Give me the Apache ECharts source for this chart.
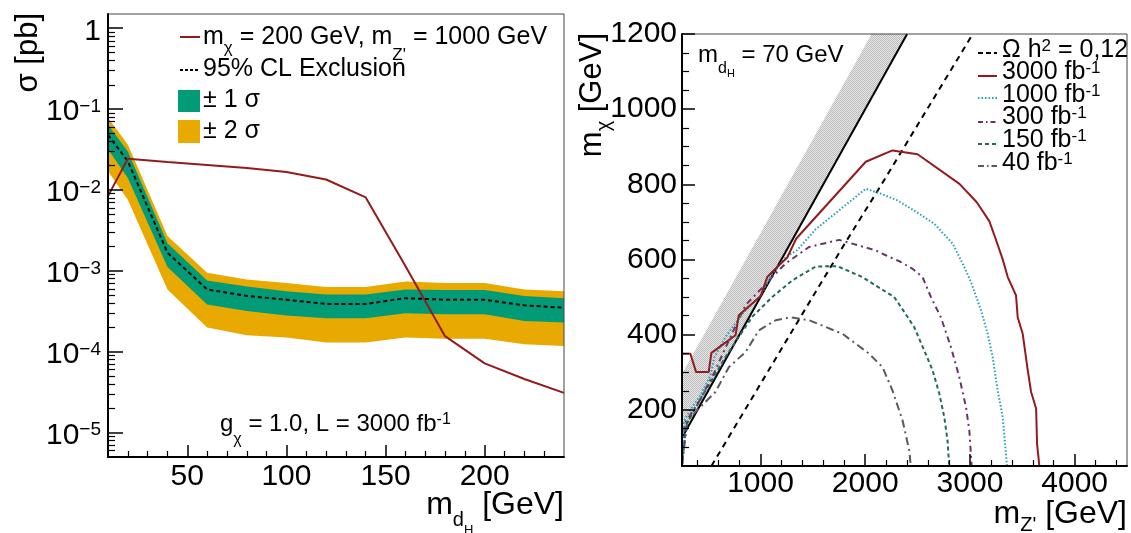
<!DOCTYPE html>
<html>
<head>
<meta charset="utf-8">
<script src="https://cdn.jsdelivr.net/npm/echarts@6/dist/echarts.min.js"></script>
<style>
  html, body { margin: 0; padding: 0; background: #fff; }
  #chart { width: 1131px; height: 533px; }
</style>
</head>
<body>
<div id="chart"></div>
<script>
// ---- left panel: sigma limit vs m_dH ----
const mdH      = [10, 20, 40, 60, 80, 100, 120, 140, 160, 180, 200, 220, 240];
const sigModel = [0.0084, 0.0243, 0.0222, 0.0204, 0.0187, 0.0167, 0.0135, 0.0081, 0.00115, 1.56e-4, 7.2e-5, 4.6e-5, 3.1e-5];
const limExp   = [0.048, 0.0227, 0.00168, 5.9e-4, 4.9e-4, 4.4e-4, 3.9e-4, 3.9e-4, 4.6e-4, 4.4e-4, 4.4e-4, 3.75e-4, 3.5e-4];
const sig1Up   = [0.064, 0.030, 0.0022, 7.6e-4, 6.4e-4, 5.6e-4, 5.1e-4, 5.1e-4, 5.9e-4, 5.8e-4, 5.8e-4, 4.9e-4, 4.6e-4];
const sig1Dn   = [0.032, 0.0141, 0.00112, 3.85e-4, 3.2e-4, 2.8e-4, 2.6e-4, 2.6e-4, 3.0e-4, 2.9e-4, 2.9e-4, 2.4e-4, 2.3e-4];
const sig2Up   = [0.078, 0.0365, 0.0027, 9.5e-4, 7.85e-4, 7.1e-4, 6.3e-4, 6.3e-4, 7.4e-4, 7.1e-4, 7.1e-4, 5.9e-4, 5.6e-4];
const sig2Dn   = [0.017, 0.0076, 5.9e-4, 2.0e-4, 1.6e-4, 1.5e-4, 1.3e-4, 1.3e-4, 1.5e-4, 1.45e-4, 1.45e-4, 1.24e-4, 1.18e-4];

// ---- right panel: m_chi vs m_Z' contours, [mZp, mchi] ----
const kinLine   = [[250, 125], [2400, 1200]];
const hatchEdge = [[2060, 1200], [250, 295]];
const omegaLine = [[531, 50], [1400, 455], [1800, 640], [2150, 797], [3027, 1200]];
const lumi3000 = [[250, 200], [250, 349], [330, 349], [385, 300], [505, 300], [531, 351], [761, 398], [792, 451],
  [1000, 502], [1064, 553], [1128, 571], [1255, 605], [1340, 655], [2005, 860], [2260, 890], [2500, 880],
  [2900, 801], [3065, 752], [3185, 702], [3250, 651], [3313, 600], [3361, 553], [3440, 504], [3456, 446],
  [3504, 402], [3552, 305], [3584, 247], [3632, 203], [3641, 109], [3663, 50]];
const lumi1000 = [[250, 60], [270, 170], [330, 200], [420, 235], [520, 290], [560, 340], [665, 393], [825, 455],
  [1000, 504], [1112, 562], [1239, 606], [1351, 625], [1526, 680], [2005, 788], [2148, 775], [2308, 757],
  [2467, 730], [2659, 695], [2835, 642], [2930, 589], [3010, 540], [3106, 464], [3169, 402], [3217, 340],
  [3265, 251], [3313, 180], [3354, 50]];
const lumi300 = [[250, 55], [280, 165], [420, 225], [560, 300], [697, 384], [856, 478], [1000, 520], [1080, 544],
  [1239, 589], [1463, 633], [1750, 652], [2100, 624], [2196, 611], [2340, 593], [2452, 575], [2547, 553],
  [2627, 500], [2722, 446], [2818, 367], [2898, 287], [2962, 207], [2994, 145], [3010, 78], [3016, 50]];
const lumi150 = [[250, 50], [290, 160], [450, 240], [560, 290], [665, 340], [920, 447], [1112, 500], [1303, 544],
  [1526, 581], [1734, 582], [1973, 553], [2148, 522], [2276, 500], [2373, 460], [2467, 420], [2563, 358],
  [2643, 305], [2707, 243], [2755, 180], [2786, 118], [2802, 50]];
const lumi40 = [[250, 50], [300, 170], [400, 200], [569, 247], [697, 313], [856, 353], [984, 411], [1144, 438],
  [1287, 446], [1463, 438], [1782, 402], [2037, 349], [2165, 313], [2260, 251], [2356, 172], [2420, 92], [2435, 50]];

// ---- ticks ----
const xMajorL = [50, 100, 150, 200];
const xMinorL = [20, 30, 40, 60, 70, 80, 90, 110, 120, 130, 140, 160, 170, 180, 190, 210, 220, 230];
const yMajorL = [1e-5, 1e-4, 1e-3, 1e-2, 1e-1, 1];
const xMajorR = [1000, 2000, 3000, 4000];
const xMinorR = [400, 600, 800, 1200, 1400, 1600, 1800, 2200, 2400, 2600, 2800, 3200, 3400, 3600, 3800, 4200, 4400];
const yMajorR = [200, 400, 600, 800, 1000, 1200];
const yMinorR = [100, 150, 250, 300, 350, 450, 500, 550, 650, 700, 750, 850, 900, 950, 1050, 1100, 1150];
const yMinorL = [];
[1e-6, 1e-5, 1e-4, 1e-3, 1e-2, 1e-1].forEach(d => {
  for (let k = 2; k <= 9; k++) {
    const v = +(k * d).toPrecision(3);
    if (v > 5e-6 && v < 1.5) yMinorL.push(v);
  }
});

const FONT = '"Liberation Sans", Arial, Helvetica, sans-serif';
const RED = '#931b1b', GREEN = '#019b78', ORANGE = '#e8a900';
const CYAN = '#23a0ba', PURPLE = '#6a3468', TEAL = '#1f6b5f', GREY = '#5a5a5a';

// a token for rich text, all top aligned; pad pushes it down (subscripts)
function tok(size, pad, lh) {
  return { fontSize: size, lineHeight: lh || size, fontFamily: FONT, color: '#000',
           verticalAlign: 'top', padding: [pad || 0, 0, 0, 0] };
}

// fine grey checker used for the hatched band
const pc = document.createElement('canvas');
pc.width = 2; pc.height = 2;
const pg = pc.getContext('2d');
pg.fillStyle = '#e6e6e6'; pg.fillRect(0, 0, 2, 2);
pg.fillStyle = '#bdbdbd'; pg.fillRect(0, 0, 1, 1); pg.fillRect(1, 1, 1, 1);

function band(upper, lower, color) {
  return {
    type: 'custom', xAxisIndex: 0, yAxisIndex: 0, clip: true, silent: true,
    data: [[mdH[0], upper[0]]],
    renderItem: (params, api) => {
      const pts = mdH.map((x, i) => api.coord([x, upper[i]]))
        .concat(mdH.map((x, i) => api.coord([x, lower[i]])).reverse());
      return { type: 'polygon', shape: { points: pts }, style: { fill: color } };
    }
  };
}

function curve(data, color, dash, width) {
  return {
    type: 'line', xAxisIndex: 2, yAxisIndex: 2, data: data, showSymbol: false, silent: true,
    clip: true, lineStyle: { color: color, width: width || 2, type: dash || 'solid' }
  };
}

function majorAxis(grid, extra) {
  return Object.assign({
    gridIndex: grid, type: 'value', z: 10,
    axisLine: { show: true, onZero: false, lineStyle: { color: '#000', width: 2 } },
    splitLine: { show: false },
  }, extra);
}
function minorAxis(grid, extra) {
  return Object.assign({
    gridIndex: grid, type: 'value', z: 10,
    axisLine: { show: false, onZero: false },
    axisLabel: { show: false },
    splitLine: { show: false },
  }, extra);
}

const plain = v => String(v);
const supLabel = {
  fontFamily: FONT, color: '#000',
  rich: { b: tok(30), s: tok(19, 0, 22) }
};

const option = {
  animation: false,
  backgroundColor: '#fff',
  grid: [
    { left: 108, top: 14, width: 456, height: 443, show: true, borderColor: '#444', borderWidth: 1, z: 10 },
    { left: 682, top: 34, width: 445, height: 432, show: true, borderColor: '#444', borderWidth: 1, z: 10 }
  ],
  xAxis: [
    majorAxis(0, { min: 10, max: 240, position: 'bottom',
      axisTick: { inside: true, length: 12, customValues: xMajorL, lineStyle: { color: '#000', width: 1.5 } },
      axisLabel: { customValues: xMajorL, formatter: plain, fontSize: 30, fontFamily: FONT, color: '#000', margin: 5 } }),
    minorAxis(0, { min: 10, max: 240, position: 'bottom',
      axisTick: { inside: true, length: 6, customValues: xMinorL, lineStyle: { color: '#000', width: 1.2 } } }),
    majorAxis(1, { min: 250, max: 4500, position: 'bottom',
      axisTick: { inside: true, length: 12, customValues: xMajorR, lineStyle: { color: '#000', width: 1.5 } },
      axisLabel: { customValues: xMajorR, formatter: plain, fontSize: 30, fontFamily: FONT, color: '#000', margin: 3 } }),
    minorAxis(1, { min: 250, max: 4500, position: 'bottom',
      axisTick: { inside: true, length: 6, customValues: xMinorR, lineStyle: { color: '#000', width: 1.2 } } })
  ],
  yAxis: [
    majorAxis(0, { type: 'log', logBase: 10, min: 5e-6, max: 1.5, position: 'left',
      axisTick: { inside: true, length: 15, customValues: yMajorL, lineStyle: { color: '#000', width: 1.5 } },
      axisLabel: Object.assign({ customValues: yMajorL, margin: 7, padding: [6, 0, 0, 0],
        formatter: v => {
          const e = Math.round(Math.log10(v));
          return e === 0 ? '{b|1}' : '{b|10}{s|\u2212' + (-e) + '}';
        } }, supLabel) }),
    minorAxis(0, { type: 'log', logBase: 10, min: 5e-6, max: 1.5, position: 'left',
      axisTick: { inside: true, length: 7, customValues: yMinorL, lineStyle: { color: '#000', width: 1.2 } } }),
    majorAxis(1, { min: 50, max: 1200, position: 'left',
      axisTick: { inside: true, length: 13, customValues: yMajorR, lineStyle: { color: '#000', width: 1.5 } },
      axisLabel: { customValues: yMajorR, formatter: plain, fontSize: 30, fontFamily: FONT, color: '#000', margin: 5 } }),
    minorAxis(1, { min: 50, max: 1200, position: 'left',
      axisTick: { inside: true, length: 7, customValues: yMinorR, lineStyle: { color: '#000', width: 1.2 } } })
  ],
  series: [
    band(sig2Up, sig2Dn, ORANGE),
    band(sig1Up, sig1Dn, GREEN),
    { type: 'line', xAxisIndex: 0, yAxisIndex: 0, data: mdH.map((x, i) => [x, limExp[i]]), showSymbol: false,
      silent: true, lineStyle: { color: '#000', width: 2, type: [4, 3] } },
    { type: 'line', xAxisIndex: 0, yAxisIndex: 0, data: mdH.map((x, i) => [x, sigModel[i]]), showSymbol: false,
      silent: true, lineStyle: { color: RED, width: 2 } },
    // kinematic hatched band
    {
      type: 'custom', xAxisIndex: 2, yAxisIndex: 2, clip: true, silent: true,
      data: [kinLine[0]],
      renderItem: (params, api) => ({
        type: 'polygon',
        shape: { points: kinLine.concat(hatchEdge).map(p => api.coord(p)) },
        style: { fill: { image: pc, repeat: 'repeat' } }
      })
    },
    curve(kinLine, '#000', 'solid', 2),
    curve(omegaLine, '#000', [6, 5], 2),
    curve(lumi40, GREY, [8, 4, 2, 4], 2),
    curve(lumi150, TEAL, [4, 3], 2),
    curve(lumi300, PURPLE, [6, 4, 2, 4], 2),
    curve(lumi1000, CYAN, [1.5, 2], 2),
    curve(lumi3000, RED, 'solid', 2)
  ],
  graphic: [
    // axis titles
    { type: 'text', x: 13, y: 13, rotation: Math.PI / 2, z: 100,
      style: { text: '\u03c3 [pb]', font: '31px ' + FONT, fill: '#000', align: 'right', verticalAlign: 'top' } },
    { type: 'text', x: 564, y: 489, z: 100,
      style: { text: '{n|m}{d|d}{h|H}{n| [GeV]}', align: 'right', verticalAlign: 'top',
        rich: { n: tok(32), d: tok(20, 21), h: tok(13, 35) } } },
    { type: 'text', x: 577, y: 33, rotation: Math.PI / 2, z: 100,
      style: { text: '{n|m}{c|\u03c7}{n| [GeV]}', align: 'right', verticalAlign: 'top',
        rich: { n: tok(31), c: tok(20, 17) } } },
    { type: 'text', x: 1127, y: 498, z: 100,
      style: { text: "{n|m}{z|Z'}{n| [GeV]}", align: 'right', verticalAlign: 'top',
        rich: { n: tok(32), z: tok(20, 17) } } },

    // left legend
    { type: 'line', z: 100, shape: { x1: 180, y1: 37, x2: 200, y2: 37 }, style: { stroke: RED, lineWidth: 2 } },
    { type: 'text', x: 203, y: 25, z: 100,
      style: { text: "{n|m}{c|\u03c7}{n| = 200 GeV, m}{z|Z'}{n| = 1000 GeV}", verticalAlign: 'top',
        rich: { n: tok(25), c: tok(17, 15), z: tok(17, 22) } } },
    { type: 'line', z: 100, shape: { x1: 180, y1: 70, x2: 200, y2: 70 },
      style: { stroke: '#000', lineWidth: 2, lineDash: [3, 2] } },
    { type: 'text', x: 203, y: 56.5, z: 100,
      style: { text: '95% CL Exclusion', font: '25px ' + FONT, fill: '#000', verticalAlign: 'top' } },
    { type: 'rect', z: 100, shape: { x: 178, y: 90, width: 22, height: 22 }, style: { fill: GREEN } },
    { type: 'text', x: 203, y: 87.5, z: 100,
      style: { text: '\u00b1 1 \u03c3', font: '25px ' + FONT, fill: '#000', verticalAlign: 'top' } },
    { type: 'rect', z: 100, shape: { x: 178, y: 120, width: 22, height: 23 }, style: { fill: ORANGE } },
    { type: 'text', x: 203, y: 118.5, z: 100,
      style: { text: '\u00b1 2 \u03c3', font: '25px ' + FONT, fill: '#000', verticalAlign: 'top' } },
    { type: 'text', x: 220, y: 412, z: 100,
      style: { text: '{n|g}{c|\u03c7}{n| = 1.0, L = 3000 fb}{s|-1}', verticalAlign: 'top',
        rich: { n: tok(24), c: tok(16, 20), s: tok(16, 0, 12) } } },

    // right panel text
    { type: 'text', x: 698, y: 43.5, z: 100,
      style: { text: '{n|m}{d|d}{h|H}{n| = 70 GeV}', verticalAlign: 'top',
        rich: { n: tok(24), d: tok(16, 17.5), h: tok(11, 24.5) } } },

    // right legend
    { type: 'line', z: 100, shape: { x1: 978, y1: 53, x2: 997, y2: 53 }, style: { stroke: '#000', lineWidth: 2, lineDash: [5, 3] } },
    { type: 'text', x: 1002, y: 38, z: 100,
      style: { text: '{n|\u03a9 h}{s|2}{n| = 0,12}', verticalAlign: 'top', rich: { n: tok(25), s: tok(17, 0, 9) } } },
    { type: 'line', z: 100, shape: { x1: 978, y1: 76, x2: 997, y2: 76 }, style: { stroke: RED, lineWidth: 2 } },
    { type: 'text', x: 1002, y: 59.5, z: 100,
      style: { text: '{n|3000 fb}{s|-1}', verticalAlign: 'top', rich: { n: tok(25), s: tok(17, 0, 7) } } },
    { type: 'line', z: 100, shape: { x1: 978, y1: 98, x2: 997, y2: 98 }, style: { stroke: CYAN, lineWidth: 2, lineDash: [1.5, 2] } },
    { type: 'text', x: 1002, y: 82.5, z: 100,
      style: { text: '{n|1000 fb}{s|-1}', verticalAlign: 'top', rich: { n: tok(25), s: tok(17, 0, 7) } } },
    { type: 'line', z: 100, shape: { x1: 978, y1: 122, x2: 997, y2: 122 }, style: { stroke: PURPLE, lineWidth: 2, lineDash: [5, 3, 1.5, 3] } },
    { type: 'text', x: 1002, y: 104.5, z: 100,
      style: { text: '{n|300 fb}{s|-1}', verticalAlign: 'top', rich: { n: tok(25), s: tok(17, 0, 7) } } },
    { type: 'line', z: 100, shape: { x1: 978, y1: 144, x2: 997, y2: 144 }, style: { stroke: TEAL, lineWidth: 2, lineDash: [4, 3] } },
    { type: 'text', x: 1002, y: 127.5, z: 100,
      style: { text: '{n|150 fb}{s|-1}', verticalAlign: 'top', rich: { n: tok(25), s: tok(17, 0, 7) } } },
    { type: 'line', z: 100, shape: { x1: 978, y1: 166, x2: 997, y2: 166 }, style: { stroke: GREY, lineWidth: 2, lineDash: [6, 3, 1.5, 3] } },
    { type: 'text', x: 1002, y: 150.5, z: 100,
      style: { text: '{n|40 fb}{s|-1}', verticalAlign: 'top', rich: { n: tok(25), s: tok(17, 0, 7) } } }
  ]
};

const chart = echarts.init(document.getElementById('chart'));
chart.setOption(option);
window.onresize = function () { chart.resize(); };
</script>
</body>
</html>
